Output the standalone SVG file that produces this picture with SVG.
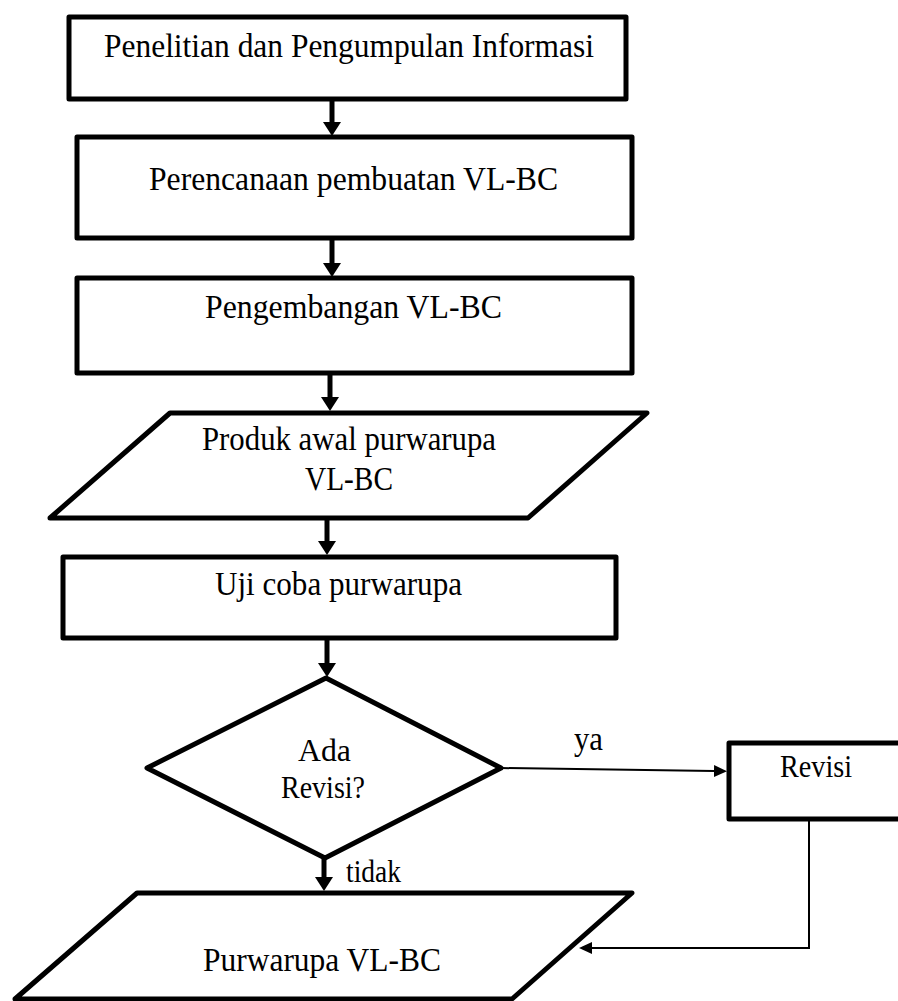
<svg xmlns="http://www.w3.org/2000/svg" width="898" height="1001" viewBox="0 0 898 1001">
<style>
.shape{fill:#fff;stroke:#000;stroke-width:5;stroke-linejoin:round}
.lbl{font-family:"Liberation Serif","Times New Roman",serif;font-size:33px;fill:#000}
.sm{font-size:31px}
.thick{stroke:#000;stroke-width:5;fill:none}
.thin{stroke:#000;stroke-width:2;fill:none}
</style>
<defs>
<marker id="ah" markerUnits="userSpaceOnUse" markerWidth="14" markerHeight="18" viewBox="0 0 14 18" refX="0" refY="9" orient="auto">
<path d="M0,0 L14,9 L0,18 z" fill="#000"/>
</marker>
<marker id="ahs" markerUnits="userSpaceOnUse" markerWidth="13" markerHeight="12" viewBox="0 0 13 12" refX="0" refY="6" orient="auto">
<path d="M0,0 L13,6 L0,12 z" fill="#000"/>
</marker>
</defs>
<rect width="898" height="1001" fill="#fff"/>
<g id="connectors">
<line class="thick" x1="332" y1="99" x2="332" y2="122" marker-end="url(#ah)"/>
<line class="thick" x1="332" y1="238" x2="332" y2="263" marker-end="url(#ah)"/>
<line class="thick" x1="330" y1="373" x2="330" y2="397" marker-end="url(#ah)"/>
<line class="thick" x1="327" y1="518" x2="327" y2="541" marker-end="url(#ah)"/>
<line class="thick" x1="327" y1="640" x2="327" y2="663" marker-end="url(#ah)"/>
<line class="thick" x1="324" y1="858" x2="324" y2="877" marker-end="url(#ah)"/>
<line class="thin" x1="501" y1="768" x2="714" y2="771" marker-end="url(#ahs)"/>
<polyline class="thin" points="809,819 809,948 592,948" marker-end="url(#ahs)"/>
<text class="lbl" x="574" y="750" textLength="29" lengthAdjust="spacingAndGlyphs">ya</text>
<text class="lbl sm" x="346" y="882" textLength="55" lengthAdjust="spacingAndGlyphs">tidak</text>
</g>
<g id="n1">
<rect class="shape" x="69" y="17" width="557" height="82"/>
<text class="lbl" x="104" y="57" textLength="490" lengthAdjust="spacingAndGlyphs">Penelitian  dan Pengumpulan  Informasi</text>
</g>
<g id="n2">
<rect class="shape" x="77" y="137" width="555" height="101"/>
<text class="lbl" x="149" y="190" textLength="409" lengthAdjust="spacingAndGlyphs">Perencanaan pembuatan VL-BC</text>
</g>
<g id="n3">
<rect class="shape" x="77" y="278" width="555" height="95"/>
<text class="lbl" x="205" y="318" textLength="297" lengthAdjust="spacingAndGlyphs">Pengembangan VL-BC</text>
</g>
<g id="n4">
<polygon class="shape" points="170,413 647,413 528,518 50,518"/>
<text class="lbl" x="202" y="450" textLength="294" lengthAdjust="spacingAndGlyphs">Produk awal purwarupa</text>
<text class="lbl" x="305" y="490" textLength="88" lengthAdjust="spacingAndGlyphs">VL-BC</text>
</g>
<g id="n5">
<rect class="shape" x="63" y="557" width="553" height="81"/>
<text class="lbl" x="215" y="595" textLength="247" lengthAdjust="spacingAndGlyphs">Uji coba purwarupa</text>
</g>
<g id="n6">
<polygon class="shape" points="326,678 501,768 325,858 147,768"/>
<text class="lbl sm" x="298" y="761" textLength="53" lengthAdjust="spacingAndGlyphs">Ada</text>
<text class="lbl sm" x="281" y="798" textLength="84" lengthAdjust="spacingAndGlyphs">Revisi?</text>
</g>
<g id="n7">
<rect class="shape" x="729" y="743" width="200" height="76"/>
<text class="lbl sm" x="780" y="777" textLength="72" lengthAdjust="spacingAndGlyphs">Revisi</text>
</g>
<g id="n8">
<polygon class="shape" points="137,893 632,893 512,999 15,999"/>
<text class="lbl" x="203" y="971" textLength="238" lengthAdjust="spacingAndGlyphs">Purwarupa VL-BC</text>
</g>
</svg>
